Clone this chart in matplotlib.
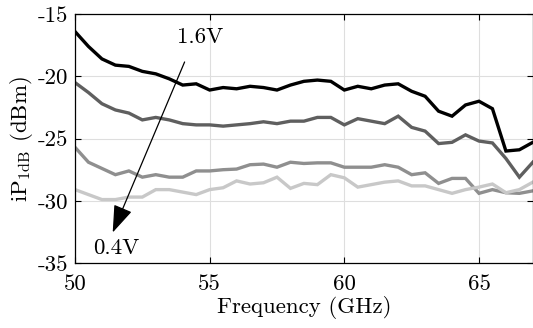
"""iP1dB versus frequency for four bias voltages."""

import matplotlib

matplotlib.use("Agg")
import matplotlib.pyplot as plt
import numpy as np

plt.rcParams["font.family"] = "serif"
plt.rcParams["font.serif"] = ["cmr10"]
plt.rcParams["mathtext.fontset"] = "cm"
plt.rcParams["axes.unicode_minus"] = False

# frequency axis, 0.5 GHz steps
freq_ghz = np.arange(50.0, 67.01, 0.5)

ip1db_1v6 = [
    -16.4, -17.6, -18.6, -19.1, -19.2, -19.6, -19.8, -20.2, -20.7, -20.6,
    -21.1, -20.9, -21.0, -20.8, -20.9, -21.1, -20.7, -20.4, -20.3, -20.4,
    -21.1, -20.8, -21.0, -20.7, -20.6, -21.2, -21.6, -22.8, -23.2, -22.3,
    -22.0, -22.6, -26.0, -25.9, -25.3,
]
ip1db_1v2 = [
    -20.5, -21.3, -22.2, -22.7, -22.95, -23.5, -23.3, -23.5, -23.8, -23.9,
    -23.9, -24.0, -23.9, -23.8, -23.65, -23.8, -23.6, -23.6, -23.3, -23.3,
    -23.9, -23.4, -23.6, -23.8, -23.2, -24.1, -24.4, -25.4, -25.3, -24.7,
    -25.2, -25.35, -26.6, -28.1, -26.9,
]
ip1db_0v8 = [
    -25.7, -26.9, -27.4, -27.9, -27.6, -28.1, -27.9, -28.1, -28.1, -27.6,
    -27.6, -27.5, -27.45, -27.1, -27.05, -27.3, -26.9, -27.0, -26.95, -26.95,
    -27.3, -27.3, -27.3, -27.1, -27.3, -27.9, -27.75, -28.6, -28.2, -28.2,
    -29.4, -29.1, -29.35, -29.4, -29.2,
]
ip1db_0v4 = [
    -29.1, -29.5, -29.9, -29.9, -29.7, -29.7, -29.1, -29.1, -29.3, -29.5,
    -29.1, -28.95, -28.4, -28.65, -28.55, -28.1, -29.0, -28.6, -28.7, -27.9,
    -28.15, -28.9, -28.7, -28.5, -28.4, -28.8, -28.8, -29.1, -29.4, -29.1,
    -28.9, -28.65, -29.35, -29.1, -28.5,
]

series = [ip1db_1v6, ip1db_1v2, ip1db_0v8, ip1db_0v4]
colors = ["#000000", "#5f5f5f", "#8f8f8f", "#c8c8c8"]

x_ticks = [50, 55, 60, 65]
y_ticks = [-35, -30, -25, -20, -15]


def main() -> None:
    fig = plt.figure(figsize=(5.33, 3.28), dpi=100)
    ax = fig.add_axes([0.1407, 0.198, 0.859, 0.759])

    for values, color in zip(series, colors):
        ax.plot(freq_ghz, values, color=color, linewidth=2.4, solid_joinstyle="miter")

    ax.set_xlim(50, 67)
    ax.set_ylim(-35, -15)
    ax.set_xticks(x_ticks)
    ax.set_xticklabels([str(t) for t in x_ticks])
    ax.set_yticks(y_ticks)
    ax.set_yticklabels([str(t) for t in y_ticks])
    ax.tick_params(direction="in", top=True, right=True, labelsize=16.5, length=4, width=0.8)
    ax.tick_params(axis="x", pad=8)
    ax.tick_params(axis="y", pad=5)
    ax.grid(True, color="#dedede", linewidth=0.8)
    ax.set_axisbelow(True)
    for spine in ax.spines.values():
        spine.set_linewidth(0.9)

    ax.set_xlabel("Frequency (GHz)", fontsize=16.5, labelpad=2)
    ax.set_ylabel(r"iP$_{\mathrm{1dB}}$ (dBm)", fontsize=16.5, labelpad=2)

    ax.annotate(
        "",
        xy=(51.36, -32.75),
        xytext=(54.11, -18.64),
        arrowprops=dict(arrowstyle="-|>,head_length=1.7,head_width=0.6", color="black", lw=0.9),
    )
    ax.text(54.63, -16.85, "1.6V", fontsize=16.5, ha="center", va="center")
    ax.text(51.54, -33.8, "0.4V", fontsize=16.5, ha="center", va="center")

    fig.savefig("out.png", dpi=100)
    plt.close(fig)


if __name__ == "__main__":
    main()
